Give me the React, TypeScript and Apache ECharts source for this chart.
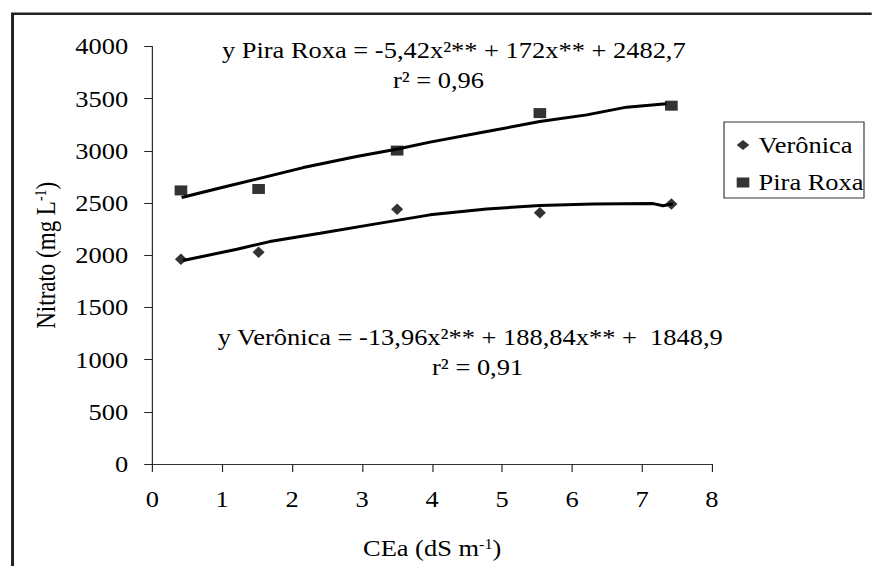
import React, { useEffect, useRef } from "react";
import * as echarts from "echarts";

const ceaValues = [0.41, 1.52, 3.5, 5.54, 7.42];
const veronicaValues = [1962, 2029, 2441, 2406, 2492];
const piraRoxaValues = [2621, 2635, 3003, 3362, 3433];

// Trend lines as drawn in the picture
const piraTrendX = [0.42, 1.01, 1.49, 2.16, 2.92, 3.49, 3.97, 4.78, 5.54, 6.21, 6.78, 7.35];
const piraTrendY = [2553, 2652, 2729, 2840, 2946, 3016, 3084, 3185, 3281, 3345, 3419, 3451];
const veronicaTrendX = [0.44, 1.21, 1.68, 2.4, 3.11, 3.97, 4.78, 5.54, 6.3, 7.16, 7.3, 7.44];
const veronicaTrendY = [1949, 2058, 2131, 2211, 2291, 2387, 2444, 2476, 2490, 2495, 2475, 2492];

const seriesNames = ["Verônica", "Pira Roxa"];
const equationPira = "y Pira Roxa = -5,42x²** + 172x** + 2482,7";
const r2Pira = "r² = 0,96";
const equationVeronica = "y Verônica = -13,96x²** + 188,84x** +\u00a0 1848,9";
const r2Veronica = "r² = 0,91";

const S = 1.15;
const W = 872 / S;
const H = 566;
const FONT = "Liberation Serif";

export default function App() {
  const ref = useRef<HTMLDivElement>(null);
  useEffect(() => {
    if (!ref.current) return;
    const chart = echarts.init(ref.current, undefined, { renderer: "svg" });
    const pairs = (xs: number[], ys: number[]) => xs.map((x, i) => [x, ys[i]]);
    const sup = { fontSize: 14, lineHeight: 14, verticalAlign: "top", fontFamily: FONT, color: "#000" };
    const txt = (text: string, x: number, y: number) => ({
      type: "text",
      x,
      y,
      style: { text, fontSize: 23, fontFamily: FONT, fill: "#000", align: "left", verticalAlign: "middle" },
    });
    chart.setOption({
      animation: false,
      textStyle: { fontFamily: FONT, color: "#000" },
      grid: { left: 132.4, top: 46.5, width: 486.7, height: 417.5 },
      xAxis: {
        type: "value",
        min: 0,
        max: 8,
        interval: 1,
        name: "CEa (dS m{sup|-1})",
        nameLocation: "middle",
        nameGap: 73,
        nameTextStyle: { fontSize: 23, lineHeight: 23, color: "#000", fontFamily: FONT, rich: { sup } },
        axisLine: { lineStyle: { color: "#333", width: 1 } },
        axisTick: { inside: false, length: 8, lineStyle: { color: "#222" } },
        axisLabel: { fontSize: 23, color: "#000", fontFamily: FONT, margin: 24, formatter: (v: number) => String(v) },
        splitLine: { show: false },
      },
      yAxis: {
        type: "value",
        min: 0,
        max: 4000,
        interval: 500,
        name: "Nitrato (mg L{sup|-1})",
        nameLocation: "middle",
        nameGap: 81,
        nameTextStyle: { fontSize: 23, lineHeight: 23, color: "#000", fontFamily: FONT, rich: { sup } },
        axisLine: { show: true, lineStyle: { color: "#222", width: 1 } },
        axisTick: { show: true, inside: false, length: 7, lineStyle: { color: "#222" } },
        axisLabel: { fontSize: 23, color: "#000", fontFamily: FONT, margin: 21, formatter: (v: number) => String(v) },
        splitLine: { show: false },
      },
      legend: {
        orient: "vertical",
        left: 640.6,
        top: 133.5,
        padding: 0,
        itemWidth: 11,
        itemHeight: 10,
        itemGap: 14.5,
        textStyle: { fontSize: 23, lineHeight: 23, color: "#000", fontFamily: FONT, padding: [0, 0, 0, 3] },
        data: [
          { name: seriesNames[0], icon: "diamond" },
          { name: seriesNames[1], icon: "rect" },
        ],
      },
      graphic: [
        {
          type: "rect",
          silent: true,
          shape: { x: 10.9, y: 13.7, width: 900, height: 700 },
          style: { fill: "none", stroke: "#222", lineWidth: 2.6 },
        },
        {
          type: "rect",
          silent: true,
          shape: { x: 629.6, y: 122, width: 121.7, height: 76 },
          style: { fill: "none", stroke: "#333", lineWidth: 1 },
        },
        txt(equationPira, 193, 50.2),
        txt(r2Pira, 341.7, 80.2),
        txt(equationVeronica, 189.3, 337.2),
        txt(r2Veronica, 375.7, 367.2),
      ],
      series: [
        {
          name: seriesNames[0],
          type: "scatter",
          symbol: "diamond",
          symbolSize: [10.5, 11.5],
          itemStyle: { color: "#000" },
          data: pairs(ceaValues, veronicaValues),
          z: 3,
        },
        {
          name: seriesNames[1],
          type: "scatter",
          symbol: "rect",
          symbolSize: [11, 10],
          itemStyle: { color: "#000" },
          data: pairs(ceaValues, piraRoxaValues),
          z: 3,
        },
        {
          name: "Verônica trend",
          type: "line",
          showSymbol: false,
          symbol: "none",
          lineStyle: { color: "#000", width: 3 },
          data: pairs(veronicaTrendX, veronicaTrendY),
          z: 2,
        },
        {
          name: "Pira Roxa trend",
          type: "line",
          showSymbol: false,
          symbol: "none",
          lineStyle: { color: "#000", width: 3 },
          data: pairs(piraTrendX, piraTrendY),
          z: 2,
        },
      ],
    });
    return () => chart.dispose();
  }, []);

  return (
    <div style={{ position: "absolute", left: 0, top: 0, width: 872, height: H, overflow: "hidden", background: "#fff" }}>
      <div
        ref={ref}
        style={{ width: W, height: H, transform: `scaleX(${S})`, transformOrigin: "0 0" }}
      />
    </div>
  );
}
